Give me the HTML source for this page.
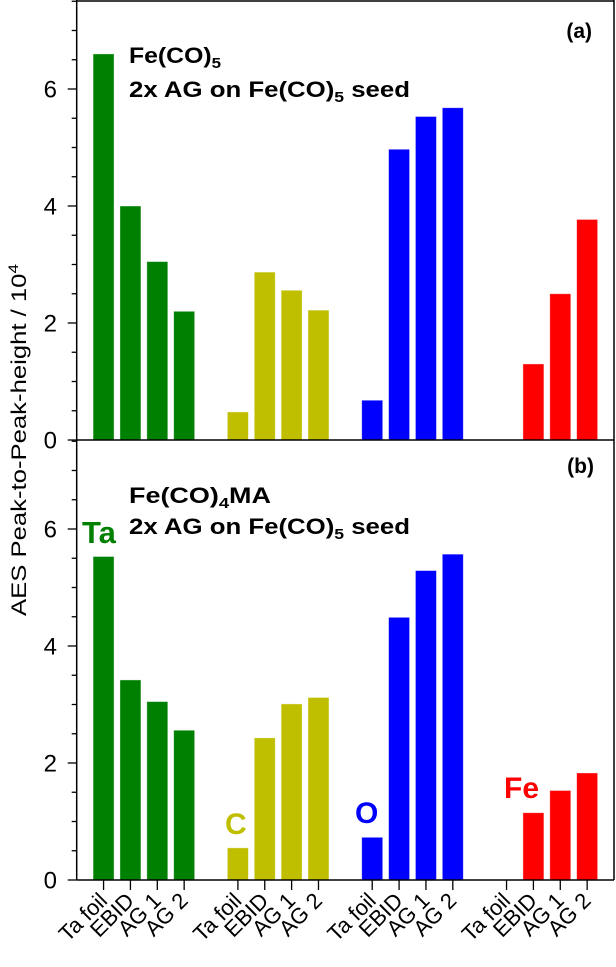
<!DOCTYPE html>
<html><head><meta charset="utf-8"><style>
html,body{margin:0;padding:0;background:#fff;}
svg{display:block;font-family:"Liberation Sans",sans-serif;}
</style></head><body>
<svg id="chart" width="616" height="967" viewBox="0 0 616 967" xmlns="http://www.w3.org/2000/svg"></svg>
<script>
const categories = ["Ta foil","EBID","AG 1","AG 2"];
const elements = ["Ta","C","O","Fe"];
const colors = ["#008000","#bfbf00","#0000ff","#ff0000"];
const panelA_Ta = [6.6, 4.0, 3.05, 2.2];
const panelA_C  = [0.48, 2.87, 2.56, 2.22];
const panelA_O  = [0.68, 4.97, 5.53, 5.68];
const panelA_Fe = [0, 1.3, 2.5, 3.77];
const panelB_Ta = [5.53, 3.42, 3.05, 2.56];
const panelB_C  = [0.55, 2.43, 3.01, 3.12];
const panelB_O  = [0.73, 4.49, 5.29, 5.57];
const panelB_Fe = [0, 1.15, 1.53, 1.83];
const yTicks = [0, 2, 4, 6];

const NS = "http://www.w3.org/2000/svg";
const svg = document.getElementById("chart");
function mk(tag, attrs, parent){
  const e = document.createElementNS(NS, tag);
  for (const k in attrs) e.setAttribute(k, attrs[k]);
  (parent||svg).appendChild(e);
  return e;
}
const L = 76.7, R = 614;
function xs(i){ return L + (i + 1) * (R - L) / 20; }
const pxPerUnit = 58.5;
function makeY(zeroY){ return v => zeroY - v * pxPerUnit; }
const barW = 21;

function drawPanel(zeroY, series, name){
  const y = makeY(zeroY);
  const g = mk("g", {});
  
  
  series.forEach((vals, gi) => {
    vals.forEach((v, ci) => {
      if (v <= 0) return;
      const idx = gi * 5 + ci;
      const r = mk("rect", {x: xs(idx) - barW/2, y: y(v), width: barW, height: zeroY - y(v), fill: colors[gi], stroke: "#fff", "stroke-opacity": 0.5, "stroke-width": 0.8}, g);
      
      
    });
  });
  for (let v = 0; v <= 7.5; v += 0.5) {
    const major = Number.isInteger(v / 2);
    mk("line", {x1: L - (major ? 9 : 5), x2: L, y1: y(v), y2: y(v), stroke: "#000", "stroke-width": 1.3}, g);
  }
  yTicks.forEach(t => {
    const tx = mk("text", {x: 57, y: y(t) + 8.5, "text-anchor": "end", "font-size": 24}, g);
    tx.textContent = t;
    
    
  });
  mk("line", {x1: L, x2: R, y1: zeroY, y2: zeroY, stroke: "#000", "stroke-width": 1.5}, g);
}
drawPanel(440, [panelA_Ta, panelA_C, panelA_O, panelA_Fe], "panel-a");
drawPanel(880, [panelB_Ta, panelB_C, panelB_O, panelB_Fe], "panel-b");

mk("line", {x1: L, x2: L, y1: 0, y2: 880, stroke: "#000", "stroke-width": 1.5});
mk("line", {x1: R, x2: R, y1: 0, y2: 880, stroke: "#000", "stroke-width": 1.5});
mk("line", {x1: L, x2: R, y1: 1, y2: 1, stroke: "#000", "stroke-width": 1.5});

elements.forEach((el, gi) => {
  categories.forEach((c, ci) => {
    const x = xs(gi * 5 + ci);
    mk("line", {x1: x, x2: x, y1: 880, y2: 890, stroke: "#000", "stroke-width": 1.3});
    const t = mk("text", {x: x + 5, y: 902, "text-anchor": "end", "font-size": 22, transform: `rotate(-45 ${x + 5} 902)`});
    t.textContent = c;
    
    
  });
});
</script>
<svg width="616" height="967" style="position:absolute;left:0;top:0" xmlns="http://www.w3.org/2000/svg" font-family="Liberation Sans, sans-serif">
  <text transform="translate(26 440) rotate(-90)" text-anchor="middle" font-size="21" textLength="352" lengthAdjust="spacingAndGlyphs">AES Peak-to-Peak-height / 10<tspan font-size="14" dy="-8">4</tspan></text>
  <text x="592" y="38" text-anchor="end" font-size="21" font-weight="bold">(a)</text>
  <text x="594" y="473" text-anchor="end" font-size="21" font-weight="bold">(b)</text>
  <text x="129" y="63" font-size="22" font-weight="bold" textLength="92" lengthAdjust="spacingAndGlyphs">Fe(CO)<tspan font-size="15" dy="5">5</tspan></text>
  <text x="129" y="97" font-size="22" font-weight="bold" textLength="281" lengthAdjust="spacingAndGlyphs">2x AG on Fe(CO)<tspan font-size="15" dy="5">5</tspan><tspan dy="-5"> seed</tspan></text>
  <text x="129" y="503" font-size="22" font-weight="bold" textLength="142" lengthAdjust="spacingAndGlyphs">Fe(CO)<tspan font-size="15" dy="5">4</tspan><tspan dy="-5">MA</tspan></text>
  <text x="129" y="534" font-size="22" font-weight="bold" textLength="281" lengthAdjust="spacingAndGlyphs">2x AG on Fe(CO)<tspan font-size="15" dy="5">5</tspan><tspan dy="-5"> seed</tspan></text>
  <text x="82" y="543" font-size="31" font-weight="bold" fill="#008000">Ta</text>
  <text x="225" y="834" font-size="30" font-weight="bold" fill="#bfbf00">C</text>
  <text x="355" y="823" font-size="30" font-weight="bold" fill="#0000ff">O</text>
  <text x="504" y="798" font-size="30" font-weight="bold" fill="#ff0000">Fe</text>
</svg>
</body></html>
